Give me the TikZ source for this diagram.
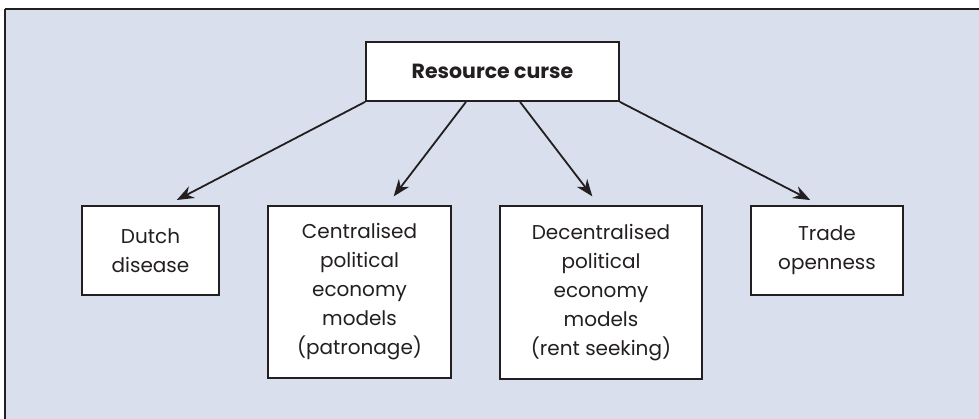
\documentclass[tikz,border=0pt]{standalone}
\usepackage{fontspec}
\setmainfont{Poppins}
\usepackage{tikz}
\usetikzlibrary{arrows.meta}

\definecolor{panel}{HTML}{D9DFEC}
\definecolor{ink}{HTML}{231F20}

\tikzset{
  box/.style={draw=ink, line width=1.8pt, fill=white, text=ink, align=center,
    inner sep=0pt, font=\fontsize{20}{29}\selectfont},
  link/.style={draw=ink, line width=1.8pt, -{Stealth[length=17pt,width=13pt]}, shorten >=11pt}
}

\begin{document}
\begin{tikzpicture}[x=1pt, y=-1pt]
\useasboundingbox (0,0) rectangle (979,419);
% panel
\fill[panel] (5,9) rectangle (979,419);
\draw[ink, line width=1.3pt] (5,419)--(5,9);
\draw[ink, line width=2.2pt] (5,9)--(979,9);
%
\node[box, minimum width=253pt, minimum height=59pt, font=\fontsize{20.5}{29}\selectfont\bfseries] (curse) at (492.5,71.5) {Resource curse};
%
\node[box, minimum width=137pt, minimum height=89pt] (dutch) at (150.5,250.5) {Dutch\\disease};
\node[box, minimum width=183pt, minimum height=172pt] (central) at (359.5,292) {Centralised\\political\\economy\\models\\(patronage)};
\node[box, minimum width=202pt, minimum height=173pt] (decentral) at (601,292.5) {Decentralised\\political\\economy\\models\\(rent seeking)};
\node[box, minimum width=152pt, minimum height=89pt] (trade) at (827,250.5) {Trade\\openness};
%
\draw[link] (curse.south west) -- ([xshift=16.5]dutch.north);
\draw[link] ([xshift=-26.5]curse.south) -- ([xshift=27.5]central.north);
\draw[link] ([xshift=27.5]curse.south) -- ([xshift=-2]decentral.north);
\draw[link] (curse.south east) -- ([xshift=-7]trade.north);
\end{tikzpicture}
\end{document}
